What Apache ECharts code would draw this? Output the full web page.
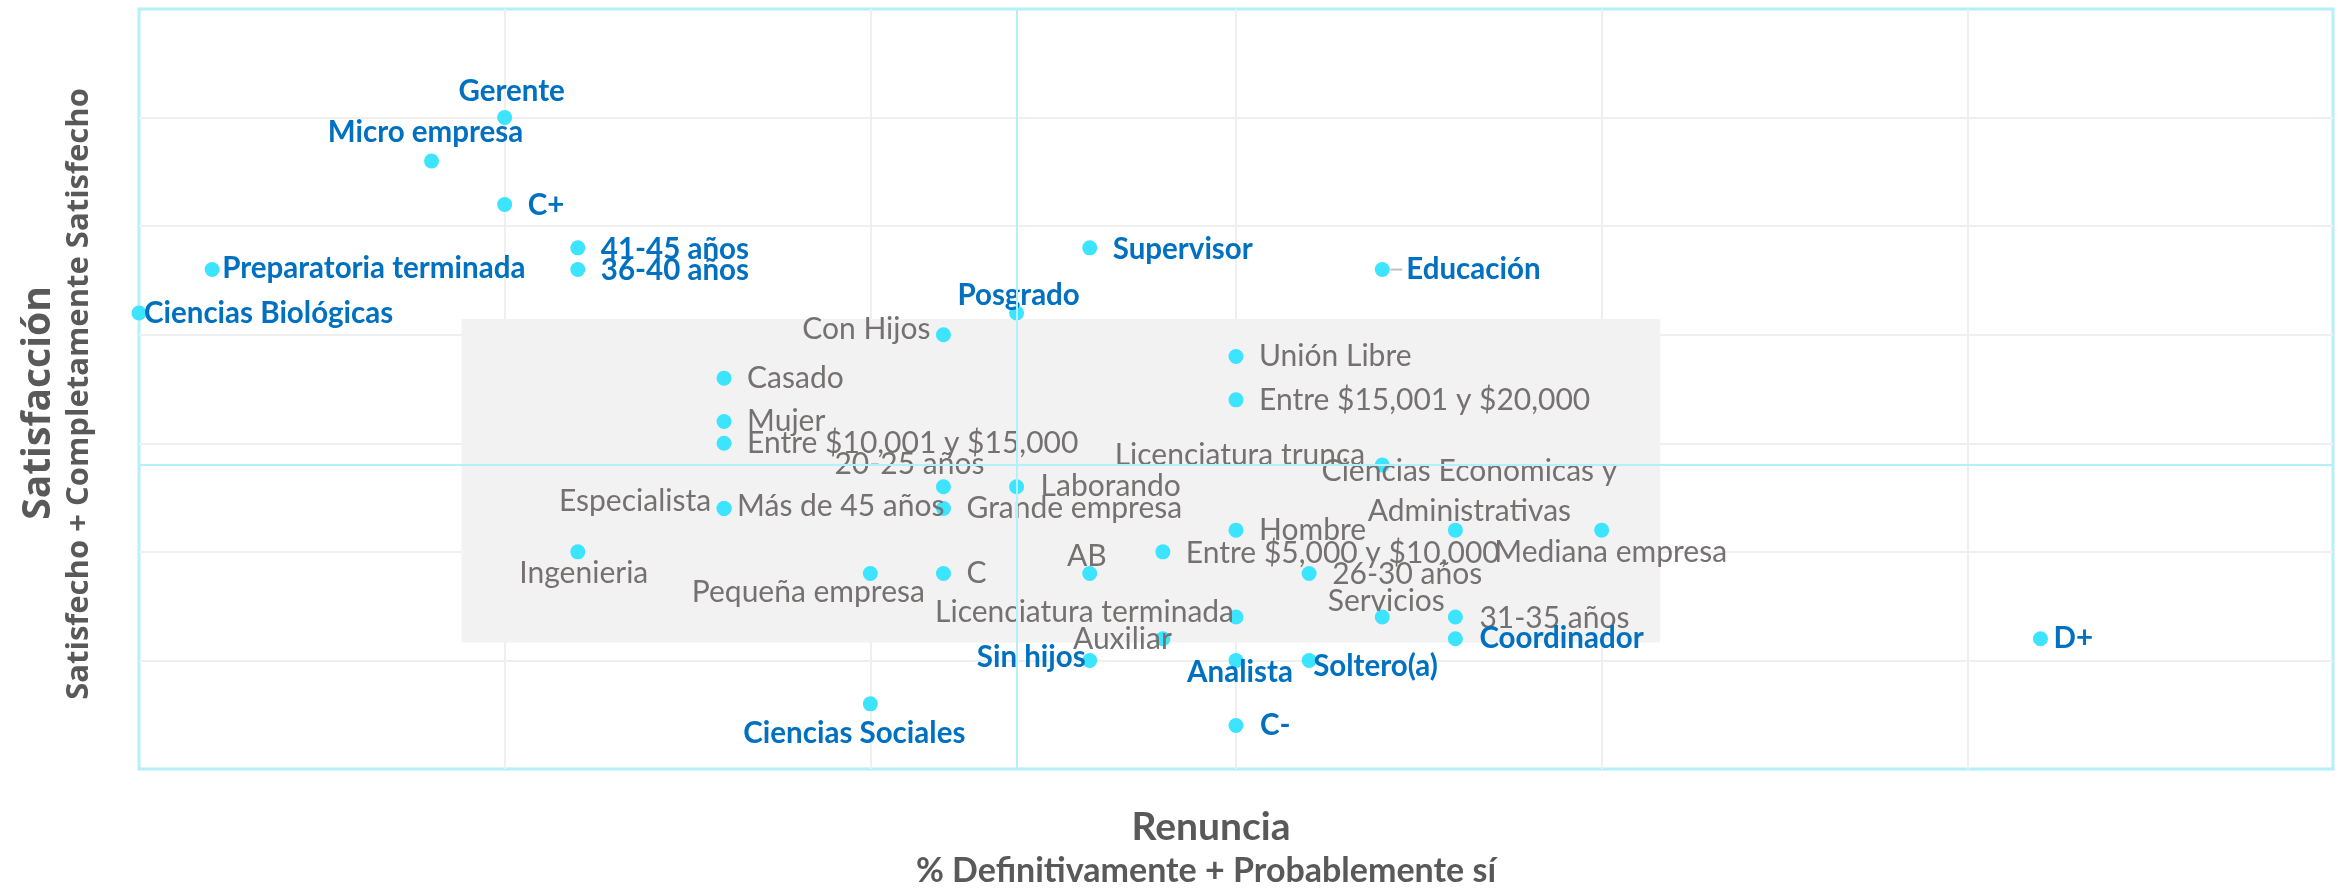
<!DOCTYPE html>
<html lang="es">
<head>
    <meta charset="UTF-8">
    <title>Renuncia vs Satisfacción</title>
    <script src="https://cdn.jsdelivr.net/npm/echarts@6/dist/echarts.min.js"></script>
    <style>
        html, body { margin: 0; padding: 0; background: #fff; }
        #chart1 { width: 2343px; height: 892px; }
    </style>
</head>
<body>
<div id="chart1"></div>
<script type="text/javascript">
    // segmentos destacados (azul) - fuera de la zona promedio
    var blueNames = ['Gerente', 'Micro empresa', 'C+', '41-45 años', '36-40 años', 'Preparatoria terminada',
        'Ciencias Biológicas', 'Posgrado', 'Supervisor', 'Educación', 'Ciencias Sociales', 'C-',
        'Sin hijos', 'Analista', 'Soltero(a)', 'Coordinador', 'D+'];
    var blueX = [5, 4, 5, 6, 6, 1, 0, 12, 13, 17, 10, 15, 13, 15, 16, 18, 26];
    var blueY = [30, 28, 26, 24, 23, 23, 21, 21, 24, 23, 3, 2, 5, 5, 5, 6, 6];

    // segmentos dentro de la zona promedio (gris)
    var grayNames = ['Con Hijos', 'Unión Libre', 'Casado', 'Entre $15,001 y $20,000', 'Mujer',
        'Entre $10,001 y $15,000', 'Licenciatura trunca', '20-25 años', 'Laborando', 'Especialista',
        'Más de 45 años', 'Grande empresa', 'Hombre', 'Ciencias Economicas y Administrativas',
        'Mediana empresa', 'Ingenieria', 'Entre $5,000 y $10,000', 'Pequeña empresa', 'C', 'AB',
        '26-30 años', 'Licenciatura terminada', 'Servicios', '31-35 años', 'Auxiliar'];
    var grayX = [11, 15, 8, 15, 8, 8, 17, 11, 12, 8, 8, 11, 15, 18, 20, 6, 14, 10, 11, 13, 16, 15, 17, 18, 14];
    var grayY = [20, 19, 18, 17, 16, 15, 14, 13, 13, 12, 12, 12, 11, 11, 11, 10, 10, 9, 9, 9, 9, 7, 7, 7, 6];

    // promedios (cuadrantes)
    var avgX = 12;
    var avgY = 14;

    // colocación de etiquetas: [align, dx, dy] respecto al punto
    var labelPlace = {
        'Gerente': ['center', 7, -26],
        'Micro empresa': ['center', -6, -29],
        'C+': ['left', 23, 1],
        '41-45 años': ['left', 23, 2],
        '36-40 años': ['left', 23, 1],
        'Preparatoria terminada': ['left', 10, -1],
        'Ciencias Biológicas': ['left', 5, 0],
        'Posgrado': ['center', 2, -18],
        'Supervisor': ['left', 23, 2],
        'Educación': ['left', 8, 0],
        'Ciencias Sociales': ['center', -16, 30],
        'C-': ['left', 24, 0],
        'Sin hijos': ['right', -4, -3],
        'Analista': ['center', 4, 12],
        'Soltero(a)': ['left', 4, 6],
        'Coordinador': ['left', 24, 0],
        'D+': ['left', 13, 0],
        'Con Hijos': ['right', -13, -5],
        'Unión Libre': ['left', 23, 0],
        'Casado': ['left', 23, 0],
        'Entre $15,001 y $20,000': ['left', 23, 0],
        'Mujer': ['left', 23, 0],
        'Entre $10,001 y $15,000': ['left', 23, 0],
        'Licenciatura trunca': ['right', -17, -10],
        '20-25 años': ['center', -34, -22],
        'Laborando': ['left', 24, 0],
        'Especialista': ['right', -13, -7],
        'Más de 45 años': ['left', 13, -2],
        'Grande empresa': ['left', 23, 0],
        'Hombre': ['left', 23, 0],
        'Ciencias Economicas y Administrativas': ['center', 14, -39],
        'Mediana empresa': ['center', 9, 22],
        'Ingenieria': ['center', 6, 21],
        'Entre $5,000 y $10,000': ['left', 23, 1],
        'Pequeña empresa': ['center', -62, 19],
        'C': ['left', 23, 0],
        'AB': ['center', -3, -17],
        '26-30 años': ['left', 23, 1],
        'Licenciatura terminada': ['right', -2, -5],
        'Servicios': ['center', 4, -16],
        '31-35 años': ['left', 24, 1],
        'Auxiliar': ['right', 9, 1]
    };

    var labelText = {
        'Ciencias Economicas y Administrativas': 'Ciencias Economicas y\nAdministrativas',
        'Educación': '{l|}{t|Educación}'
    };

    function buildData(names, xs, ys) {
        return names.map(function (n, i) {
            var p = labelPlace[n];
            return {
                name: n,
                value: [xs[i], ys[i]],
                label: {align: p[0], offset: [p[1], p[2]]}
            };
        });
    }

    var chart1 = echarts.init(document.getElementById('chart1'));
    var dotColor = '#3ce4ff';
    var cyanLine = '#b4f0f8';

    chart1.setOption({
        backgroundColor: '#ffffff',
        animation: false,
        grid: {
            left: 139, top: 9, right: 10, bottom: 123,
            show: true, borderColor: cyanLine, borderWidth: 3
        },
        xAxis: {
            type: 'value', min: 0, max: 30, interval: 5,
            axisLabel: {show: false}, axisTick: {show: false}, axisLine: {show: false},
            splitLine: {showMinLine: false, showMaxLine: false, lineStyle: {color: '#efefef', width: 2}}
        },
        yAxis: {
            type: 'value', min: 0, max: 35, interval: 5,
            axisLabel: {show: false}, axisTick: {show: false}, axisLine: {show: false},
            splitLine: {showMinLine: false, showMaxLine: false, lineStyle: {color: '#efefef', width: 2}}
        },
        graphic: [
            {
                type: 'text', x: 39, y: 403, rotation: Math.PI / 2,
                style: {text: 'Satisfacción', fill: '#595959', align: 'center', verticalAlign: 'middle',
                    font: 'bold 39px "Open Sans"'}
            },
            {
                type: 'text', x: 79, y: 394, rotation: Math.PI / 2,
                style: {text: 'Satisfecho + Completamente Satisfecho', fill: '#595959', align: 'center',
                    verticalAlign: 'middle', font: 'bold 31px "Open Sans"'}
            },
            {
                type: 'text', x: 1211, y: 827,
                style: {text: 'Renuncia', fill: '#595959', align: 'center', verticalAlign: 'middle',
                    font: 'bold 39px Lato'}
            },
            {
                type: 'text', x: 1206, y: 871,
                style: {text: '% Definitivamente + Probablemente sí', fill: '#595959', align: 'center',
                    verticalAlign: 'middle', font: 'bold 34px Lato'}
            }
        ],
        series: [
            {
                // zona promedio
                type: 'scatter', data: [], z: 1, silent: true,
                markArea: {
                    silent: true,
                    itemStyle: {color: '#f2f2f2'},
                    data: [[{coord: [4.41, 20.72]}, {coord: [20.8, 5.83]}]]
                }
            },
            {
                // líneas de cuadrante
                type: 'scatter', data: [], z: 2, silent: true,
                markLine: {
                    silent: true, symbol: 'none', label: {show: false},
                    lineStyle: {color: cyanLine, width: 2, type: 'solid'},
                    data: [{xAxis: avgX}, {yAxis: avgY}]
                }
            },
            {
                name: 'promedio', type: 'scatter', z: 3,
                symbolSize: 15,
                itemStyle: {color: dotColor, opacity: 1},
                label: {
                    show: true, position: 'inside', verticalAlign: 'middle',
                    color: '#767171', fontFamily: 'Lato', fontSize: 30, lineHeight: 40,
                    formatter: function (p) { return labelText[p.name] || p.name; }
                },
                emphasis: {disabled: true},
                data: buildData(grayNames, grayX, grayY)
            },
            {
                name: 'destacados', type: 'scatter', z: 4,
                symbolSize: 15,
                itemStyle: {color: dotColor, opacity: 1},
                label: {
                    show: true, position: 'inside', verticalAlign: 'middle',
                    color: '#0070c0', fontFamily: 'Lato', fontSize: 29.5, fontWeight: 'bold',
                    formatter: function (p) { return labelText[p.name] || p.name; },
                    rich: {
                        l: {width: 12, height: 2, backgroundColor: '#c0c0c0'},
                        t: {color: '#0070c0', fontFamily: 'Lato', fontSize: 29.5, fontWeight: 'bold', padding: [0, 0, 0, 4]}
                    }
                },
                emphasis: {disabled: true},
                data: buildData(blueNames, blueX, blueY)
            }
        ]
    });
</script>
</body>
</html>
